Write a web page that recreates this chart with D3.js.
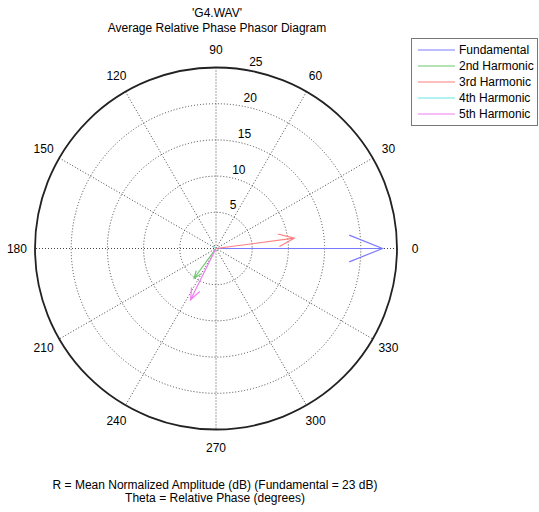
<!DOCTYPE html>
<html>
<head>
<meta charset="utf-8">
<script src="https://cdn.jsdelivr.net/npm/d3@7"></script>
<style>
  html, body { margin: 0; padding: 0; background: #fff; }
  svg text { font-family: "Liberation Sans", Arial, sans-serif; fill: #000; }
</style>
</head>
<body>
<svg id="chart" width="539" height="512"></svg>
<script>
// Harmonic phasors: mean normalized amplitude (dB) and relative phase (degrees)
const harmonics = ["Fundamental", "2nd Harmonic", "3rd Harmonic", "4th Harmonic", "5th Harmonic"];
const amplitudes = [23, 5.1, 10.9, 0.4, 7.9];
const phases = [0, 233.7, 7.5, 140, 243.6];
const colors = ["#7a7aff", "#6fc86f", "#ff7f7f", "#66e6e6", "#f07cf0"];

const ringTicks = [5, 10, 15, 20, 25];
const angleTicks = [0, 30, 60, 90, 120, 150, 180, 210, 240, 270, 300, 330];

const titleLines = ["'G4.WAV'", "Average Relative Phase Phasor Diagram"];
const captionLines = ["R = Mean Normalized Amplitude (dB) (Fundamental = 23 dB)",
                      "Theta = Relative Phase (degrees)"];

const svg = d3.select("#chart");
const cx = 216, cy = 248.5, R = 181;
const rScale = d3.scaleLinear().domain([0, 25]).range([0, R]);
const rad = d => d * Math.PI / 180;
// polar (value, degrees) -> screen coordinates
const pt = (r, deg) => [cx + rScale(r) * Math.cos(rad(deg)), cy - rScale(r) * Math.sin(rad(deg))];

const g = svg.append("g");

// dotted spokes across the full diameter
angleTicks.filter(a => a < 180).forEach(a => {
  const p1 = pt(25, a), p2 = pt(25, a + 180);
  g.append("line")
    .attr("x1", p1[0]).attr("y1", p1[1]).attr("x2", p2[0]).attr("y2", p2[1])
    .attr("stroke", "#444").attr("stroke-width", 1).attr("stroke-dasharray", "1,2");
});

// dotted inner rings
ringTicks.slice(0, -1).forEach(r => {
  g.append("circle").attr("cx", cx).attr("cy", cy).attr("r", rScale(r))
    .attr("fill", "none").attr("stroke", "#444").attr("stroke-width", 1)
    .attr("stroke-dasharray", "1,2");
});

// solid outer ring
g.append("circle").attr("cx", cx).attr("cy", cy).attr("r", rScale(25))
  .attr("fill", "none").attr("stroke", "#222").attr("stroke-width", 1.8);

// ring labels along the 81 degree ray
ringTicks.forEach(r => {
  const p = pt(r, 81);
  g.append("text").attr("x", p[0] + 11.5).attr("y", p[1] - 7.5).attr("dy", "0.35em")
    .attr("font-size", 12).attr("text-anchor", "middle").text(r);
});

// angle labels outside the outer ring
angleTicks.forEach(a => {
  const p = pt(25 * 1.1, a);
  g.append("text").attr("x", p[0]).attr("y", p[1]).attr("dy", "0.35em")
    .attr("font-size", 12).attr("text-anchor", "middle").text(a);
});

// phasor arrows: shaft plus open head (head length 0.2, half width 0.08 of magnitude)
const line = d3.line();
harmonics.forEach((h, i) => {
  const m = amplitudes[i], a = rad(phases[i]);
  const local = [[0, 0], [1, 0], [0.8, 0.08], [1, 0], [0.8, -0.08]];
  const pts = local.map(([u, v]) => {
    const x = m * (u * Math.cos(a) - v * Math.sin(a));
    const y = m * (u * Math.sin(a) + v * Math.cos(a));
    return [cx + rScale(x), cy - rScale(y)];
  });
  g.append("path").attr("d", line(pts))
    .attr("fill", "none").attr("stroke", colors[i]).attr("stroke-width", 1.2)
    .attr("stroke-linejoin", "miter");
});

// title
titleLines.forEach((t, i) => {
  svg.append("text").attr("x", 217).attr("y", 17 + i * 15)
    .attr("font-size", 12).attr("text-anchor", "middle").text(t);
});

// caption
captionLines.forEach((t, i) => {
  svg.append("text").attr("x", 215).attr("y", 489 + i * 13)
    .attr("font-size", 12).attr("text-anchor", "middle").text(t);
});

// legend
const lg = svg.append("g");
lg.append("rect").attr("x", 411.5).attr("y", 38.5).attr("width", 126).attr("height", 87)
  .attr("fill", "#fff").attr("stroke", "#777").attr("stroke-width", 1);
harmonics.forEach((h, i) => {
  const y = 50 + i * 16;
  lg.append("line").attr("x1", 418).attr("x2", 455).attr("y1", y).attr("y2", y)
    .attr("stroke", colors[i]).attr("stroke-width", 1.2);
  lg.append("text").attr("x", 459).attr("y", y).attr("dy", "0.35em")
    .attr("font-size", 12).text(h);
});
</script>
</body>
</html>
